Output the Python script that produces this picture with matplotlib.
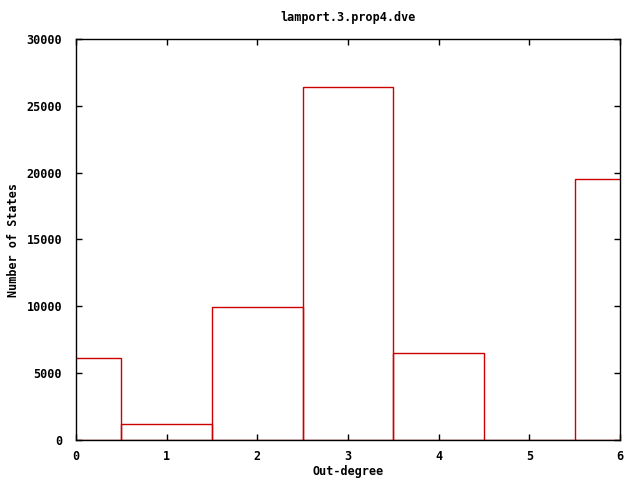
import matplotlib
matplotlib.use("Agg")
import matplotlib.pyplot as plt

degrees = [0, 1, 2, 3, 4, 5, 6]
counts = [6130, 1200, 9950, 26400, 6500, 0, 19520]
xticks = [0, 1, 2, 3, 4, 5, 6]
yticks = [0, 5000, 10000, 15000, 20000, 25000, 30000]

plt.rcParams['font.family'] = 'DejaVu Sans Mono'
plt.rcParams['font.weight'] = 'bold'
plt.rcParams['font.size'] = 8.5

fig = plt.figure(figsize=(6.4, 4.8), dpi=100)
ax = fig.add_axes([76/640, 1-440/480, (620-76)/640, (440-39)/480])
ax.bar(degrees, counts, width=1.0, fill=False, edgecolor='#cc0000', linewidth=1.0)
ax.set_xlim(0, 6)
ax.set_ylim(0, 30000)
ax.set_xticks(xticks)
ax.set_yticks(yticks)
ax.set_xticklabels([str(t) for t in xticks], fontweight='bold')
ax.set_yticklabels([str(t) for t in yticks], fontweight='bold')
ax.tick_params(direction='in', length=4, width=1, top=True, right=True)
ax.tick_params(axis='x', pad=7)
ax.tick_params(axis='y', pad=10)
for s in ax.spines.values():
    s.set_linewidth(1)
fig.text(348/640, 1-18/480, 'lamport.3.prop4.dve', ha='center', va='center', fontweight='bold')
fig.text(348/640, 1-472/480, 'Out-degree', ha='center', va='center', fontweight='bold')
fig.text(14/640, 1-240/480, 'Number of States', ha='center', va='center', rotation=90, fontweight='bold')
fig.savefig('out.png', dpi=100)
